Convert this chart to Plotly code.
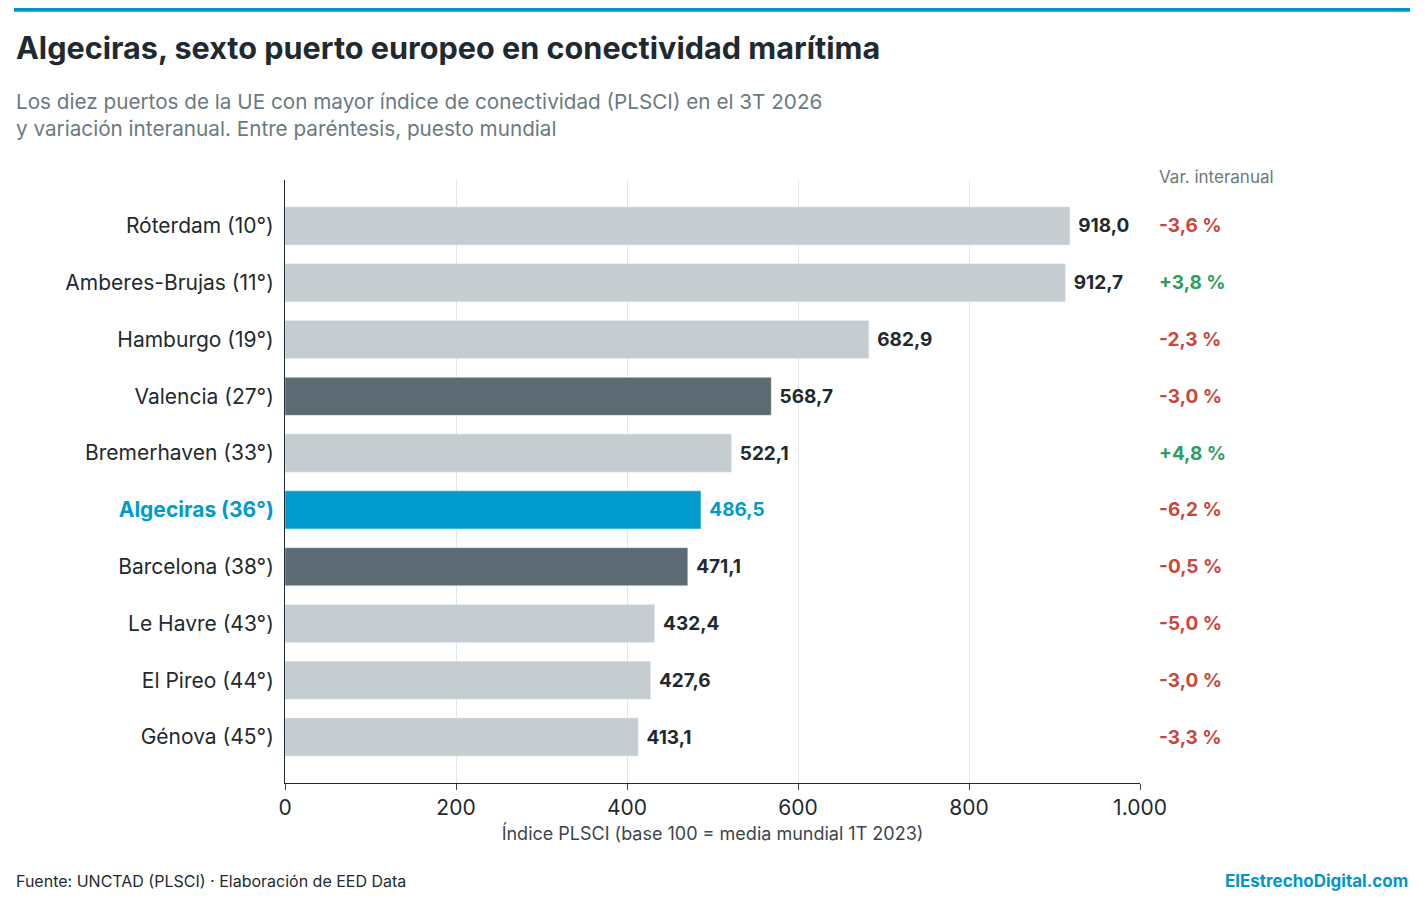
import plotly.graph_objects as go

ports = ["Róterdam (10°)", "Amberes-Brujas (11°)", "Hamburgo (19°)", "Valencia (27°)",
         "Bremerhaven (33°)", "Algeciras (36°)", "Barcelona (38°)", "Le Havre (43°)",
         "El Pireo (44°)", "Génova (45°)"]
values = [918.0, 912.7, 682.9, 568.7, 522.1, 486.5, 471.1, 432.4, 427.6, 413.1]
variation = [-3.6, 3.8, -2.3, -3.0, 4.8, -6.2, -0.5, -5.0, -3.0, -3.3]
kind = ["o", "o", "o", "es", "o", "alg", "es", "o", "o", "o"]

cmap = {"o": "#c5cdd0", "es": "#5c6b73", "alg": "#009bcc"}
colors = [cmap[k] for k in kind]
fmt = lambda v: f"{v:,.1f}".replace(",", "X").replace(".", ",").replace("X", ".")
txtcol = ["#009bcc" if k == "alg" else "#1f2a30" for k in kind]
ticktext = [f"<b><span style='color:#009bcc'>{p}</span></b>" if k == "alg" else p
            for p, k in zip(ports, kind)]

fig = go.Figure(go.Bar(
    x=values, y=ports, orientation="h", marker_color=colors, width=0.67,
    text=[f" <b>{fmt(v)}</b>" for v in values], textposition="outside",
    textfont=dict(size=19, color=txtcol), cliponaxis=False, hoverinfo="skip"))

for p, v in zip(ports, variation):
    s = ("+" if v > 0 else "") + f"{v:.1f}".replace(".", ",") + " %"
    fig.add_annotation(x=1.02, xref="paper", y=p, yref="y", text=f"<b>{s}</b>",
                       showarrow=False, xanchor="left",
                       font=dict(size=19, color="#2e9e5b" if v > 0 else "#c9473d"))
fig.add_annotation(x=1.02, xref="paper", y=0.985, yref="paper", yanchor="bottom",
                   text="Var. interanual", showarrow=False, xanchor="left",
                   font=dict(size=17, color="#6b7a80"))

L = -0.317
R = 1.316
fig.add_shape(type="rect", xref="paper", yref="paper", x0=L, x1=R, y0=1.279, y1=1.29,
              fillcolor="#0096c7", line_width=0)
fig.add_annotation(x=L, xref="paper", y=1.219, yref="paper", xanchor="left", yanchor="middle",
                   text="<b>Algeciras, sexto puerto europeo en conectividad marítima</b>",
                   showarrow=False, font=dict(size=30.6, color="#1f2a30"))
fig.add_annotation(x=L, xref="paper", y=1.108, yref="paper", xanchor="left", yanchor="middle",
                   align="left", showarrow=False, font=dict(size=20.7, color="#6b7a80"),
                   text="Los diez puertos de la UE con mayor índice de conectividad (PLSCI) en el 3T 2026<br>y variación interanual. Entre paréntesis, puesto mundial")
fig.add_annotation(x=L, xref="paper", y=-0.1625, yref="paper", xanchor="left", yanchor="middle",
                   showarrow=False, font=dict(size=16, color="#1f2a30"),
                   text="Fuente: UNCTAD (PLSCI) · Elaboración de EED Data")
fig.add_annotation(x=R, xref="paper", y=-0.1625, yref="paper", xanchor="right", yanchor="middle",
                   showarrow=False, font=dict(size=17, color="#0096c7"),
                   text="<b>ElEstrechoDigital.com</b>")

fig.update_layout(
    width=1425, height=900, margin=dict(l=277, r=293, t=172, b=125),
    paper_bgcolor="white", plot_bgcolor="white", showlegend=False,
    font=dict(family="Inter, Roboto, sans-serif", color="#1f2a30"),
    xaxis=dict(range=[0, 1000], tickvals=[0, 200, 400, 600, 800, 1000],
               ticktext=["0", "200", "400", "600", "800", "1.000"],
               showgrid=True, gridcolor="#e3e6e8", zeroline=False,
               showline=True, linecolor="#1f2a30", ticks="outside", ticklen=6,
               tickfont=dict(size=21), title=dict(text="Índice PLSCI (base 100 = media mundial 1T 2023)",
                                                  font=dict(size=18, color="#3a464c"), standoff=8)),
    yaxis=dict(range=[9.81, -0.81], tickvals=ports, ticktext=ticktext, showline=True,
               linecolor="#1f2a30", tickfont=dict(size=21), ticks="", ticklabelstandoff=6),
)
fig.write_html("out.html")
